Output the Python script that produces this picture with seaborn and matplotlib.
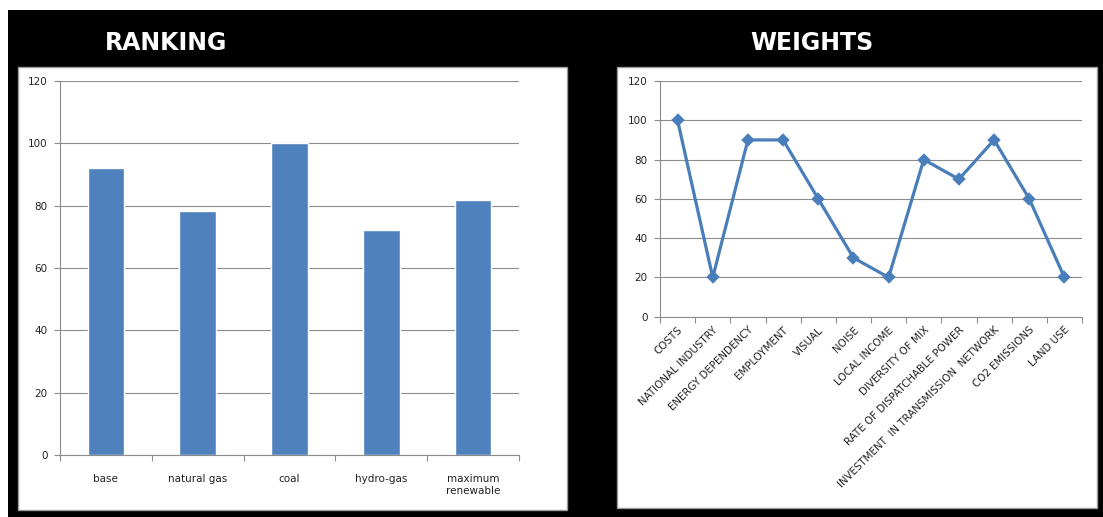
import matplotlib
matplotlib.use("Agg")
import matplotlib.pyplot as plt
from matplotlib.patches import Rectangle
import seaborn as sns
import numpy as np

# ---- data ----
scenarios = ["base", "natural gas", "coal", "hydro-gas", "maximum\nrenewable"]
ranking = [92.0, 78.4, 100.0, 72.3, 81.8]

criteria = ["COSTS", "NATIONAL INDUSTRY", "ENERGY DEPENDENCY", "EMPLOYMENT", "VISUAL",
            "NOISE", "LOCAL INCOME", "DIVERSITY OF MIX", "RATE OF DISPATCHABLE POWER",
            "INVESTMENT  IN TRANSMISSION  NETWORK", "CO2 EMISSIONS", "LAND USE"]
weights = [100, 20, 90, 90, 60, 30, 20, 80, 70, 90, 60, 20]

y_ticks = [0, 20, 40, 60, 80, 100, 120]

sns.set_theme(style="white")
plt.rcParams['font.family'] = ['DejaVu Sans']

W, H = 1103, 517
fig = plt.figure(figsize=(W / 100, H / 100), dpi=100, facecolor="white")

def frect(x0, y0, x1, y1, **kw):
    # pixel coords, y from top
    r = Rectangle((x0 / W, 1 - y1 / H), (x1 - x0) / W, (y1 - y0) / H,
                  transform=fig.transFigure, **kw)
    fig.patches.append(r)

frect(8, 10, W, H, facecolor="black", edgecolor="none", zorder=0)
frect(18, 67, 567, 510, facecolor="white", edgecolor="#9a9a9a", linewidth=1, zorder=1)
frect(617, 67, 1097, 508, facecolor="white", edgecolor="#9a9a9a", linewidth=1, zorder=1)

fig.text(166 / W, 1 - 43 / H, "RANKING", color="white", fontsize=17, fontweight="bold",
         ha="center", va="center")
fig.text(812 / W, 1 - 43 / H, "WEIGHTS", color="white", fontsize=17, fontweight="bold",
         ha="center", va="center")

grid_c = "#8c8c8c"
text_c = "#222222"

def style_axes(ax, n):
    ax.set_facecolor("white")
    ax.set_ylim(0, 120)
    ax.set_xlim(-0.5, n - 0.5)
    ax.set_yticks(y_ticks)
    ax.yaxis.grid(True, color=grid_c, linewidth=0.8)
    ax.xaxis.grid(False)
    ax.set_axisbelow(True)
    for s in ["top", "right"]:
        ax.spines[s].set_visible(False)
    for s in ["left", "bottom"]:
        ax.spines[s].set_visible(True)
        ax.spines[s].set_color(grid_c)
        ax.spines[s].set_linewidth(0.8)
    ax.tick_params(axis="y", which="major", direction="out", length=4, width=0.8,
                   color=grid_c, labelsize=7.5, labelcolor=text_c, pad=5, left=True)
    ax.tick_params(axis="x", which="major", length=0, labelsize=7.5, labelcolor=text_c)
    ax.set_xticks(np.arange(n + 1) - 0.5, minor=True)
    ax.tick_params(axis="x", which="minor", direction="out", length=4, width=0.8,
                   color=grid_c, bottom=True)
    ax.set_xlabel("")
    ax.set_ylabel("")

# ---- left: ranking bar chart ----
ax1 = fig.add_axes([60 / W, 1 - 455 / H, 459 / W, 374 / H])
ax1.set_zorder(2)
sns.barplot(x=scenarios, y=ranking, color="#4F81BD", width=0.4, saturation=1, ax=ax1)
style_axes(ax1, len(scenarios))
ax1.set_xticks(range(len(scenarios)), scenarios)
ax1.tick_params(axis="x", which="major", pad=14)
for lab in ax1.get_xticklabels():
    lab.set_va("top")
    lab.set_multialignment("center")

# ---- right: weights line chart ----
ax2 = fig.add_axes([660 / W, 1 - 316.7 / H, 422 / W, 235.7 / H])
ax2.set_zorder(2)
sns.pointplot(x=criteria, y=weights, color="#4A7EBB", markers="D", linewidth=2.3,
              markersize=5.5, ax=ax2)
style_axes(ax2, len(criteria))
ax2.set_xticks(range(len(criteria)), criteria, rotation=45, ha="right",
               rotation_mode="anchor")
ax2.tick_params(axis="x", which="major", pad=6, labelsize=7.4)

fig.savefig("out.png", dpi=100, facecolor="white")
